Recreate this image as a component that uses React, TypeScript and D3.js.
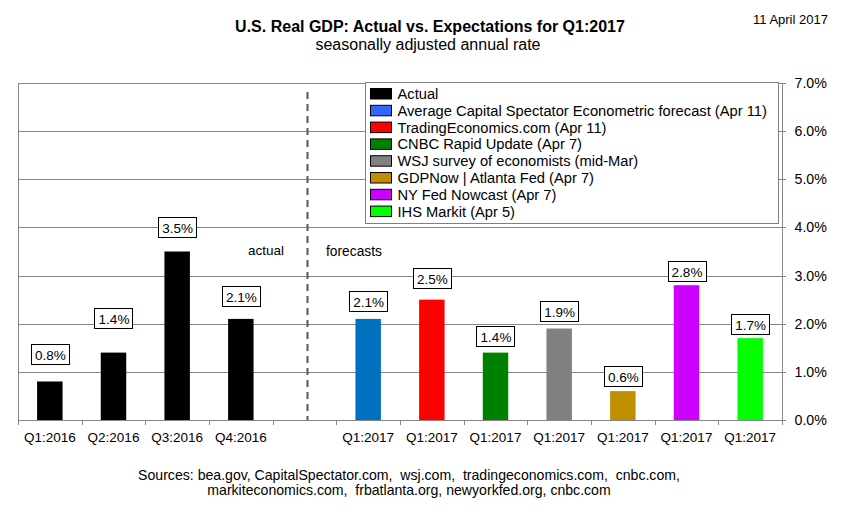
import React from "react";
import * as d3 from "d3";

// ---------- data ----------
const categories = ["Q1:2016", "Q2:2016", "Q3:2016", "Q4:2016", "", "Q1:2017", "Q1:2017", "Q1:2017", "Q1:2017", "Q1:2017", "Q1:2017", "Q1:2017"];
const values: (number | null)[] = [0.8, 1.4, 3.5, 2.1, null, 2.1, 2.5, 1.4, 1.9, 0.6, 2.8, 1.7];
const barColors = ["#000000", "#000000", "#000000", "#000000", "none", "#0070C0", "#FF0000", "#008000", "#808080", "#BF8F00", "#CC00FF", "#00FF00"];
const legendLabels = [
  "Actual",
  "Average Capital Spectator Econometric forecast (Apr 11)",
  "TradingEconomics.com (Apr 11)",
  "CNBC Rapid Update (Apr 7)",
  "WSJ survey of economists (mid-Mar)",
  "GDPNow | Atlanta Fed (Apr 7)",
  "NY Fed Nowcast (Apr 7)",
  "IHS Markit (Apr 5)",
];
const legendColors = ["#000000", "#3366FF", "#FF0000", "#008000", "#808080", "#BF8F00", "#CC00FF", "#00FF00"];
const yTicks = [0, 1, 2, 3, 4, 5, 6, 7];
const titleText = "U.S. Real GDP: Actual vs. Expectations for Q1:2017";
const subtitleText = "seasonally adjusted annual rate";
const dateText = "11 April 2017";
const sourceLines = [
  "Sources: bea.gov, CapitalSpectator.com,  wsj.com,  tradingeconomics.com,  cnbc.com,",
  "markiteconomics.com,  frbatlanta.org, newyorkfed.org, cnbc.com",
];

// ---------- layout (not data) ----------
const labelLift = [17, 25, 15, 13, 0, 8, 12, 7, 8, 5, 4, 4];
const FONT = "'Liberation Sans', Arial, sans-serif";
const W = 855;
const H = 512;
const left = 18;
const right = 782;
const top = 83;
const bottom = 420;
const grid = "#868686";

export default function App() {
  const x = d3.scaleBand<number>().domain(d3.range(categories.length)).range([left, right]).padding(0);
  const y = d3.scaleLinear().domain([0, 7]).range([bottom, top]);
  const bw = x.bandwidth() * 0.4;
  const fmt = d3.format(".1f");
  const dashX = (x(4)! + x.bandwidth() / 2) + 3;

  return (
    <svg width={W} height={H} style={{ position: "absolute", left: 0, top: 0, background: "#fff" }} fontFamily={FONT}>
      <rect x={0} y={0} width={W} height={H} fill="#fff" />
      {/* titles */}
      <text x={430} y={31.5} textAnchor="middle" fontSize={16} fontWeight="bold" fill="#000">{titleText}</text>
      <text x={428} y={50} textAnchor="middle" fontSize={16} fill="#000">{subtitleText}</text>
      <text x={753} y={24} fontSize={13} fill="#000">{dateText}</text>

      {/* gridlines */}
      {yTicks.map((t) => (
        <line key={"g" + t} x1={left} x2={right} y1={Math.round(y(t)) + 0.5} y2={Math.round(y(t)) + 0.5} stroke={grid} strokeWidth={1} />
      ))}
      {/* left border & right axis */}
      <line x1={left + 0.5} x2={left + 0.5} y1={top} y2={bottom + 5} stroke={grid} />
      <line x1={right + 0.5} x2={right + 0.5} y1={top} y2={bottom + 1} stroke={grid} />
      {yTicks.map((t) => (
        <g key={"yt" + t}>
          <line x1={right} x2={right + 4} y1={Math.round(y(t)) + 0.5} y2={Math.round(y(t)) + 0.5} stroke={grid} />
          <text x={794.5} y={y(t) + 5} fontSize={14.2} fill="#000">{fmt(t) + "%"}</text>
        </g>
      ))}
      {/* category ticks */}
      {d3.range(categories.length + 1).map((i) => {
        const xx = Math.round(i < categories.length ? x(i)! : right) + 0.5;
        return <line key={"ct" + i} x1={xx} x2={xx} y1={bottom} y2={bottom + 5} stroke={grid} />;
      })}
      {categories.map((c, i) => (
        <text key={"cl" + i} x={x(i)! + x.bandwidth() / 2} y={442} textAnchor="middle" fontSize={13.5} fill="#000">{c}</text>
      ))}

      {/* dashed separator */}
      <line x1={dashX} x2={dashX} y1={92} y2={bottom} stroke="#595959" strokeWidth={2} strokeDasharray="7,5" />
      <text x={248} y={255} fontSize={13.5} fill="#000">actual</text>
      <text x={326} y={256} fontSize={13.8} fill="#000">forecasts</text>

      {/* bars */}
      {values.map((v, i) =>
        v == null ? null : (
          <rect key={"b" + i} x={x(i)! + (x.bandwidth() - bw) / 2} y={y(v)} width={bw} height={y(0) - y(v)} fill={barColors[i]} />
        )
      )}
      {/* data labels */}
      {values.map((v, i) => {
        if (v == null) return null;
        const cx = x(i)! + x.bandwidth() / 2;
        const by = Math.round(y(v) - labelLift[i]);
        const w = 38;
        return (
          <g key={"l" + i}>
            <rect x={Math.round(cx - w / 2) + 0.5} y={by - 20 + 0.5} width={w} height={20} fill="#fff" stroke="#000" strokeWidth={1} />
            <text x={cx + 0.5} y={by - 4.5} textAnchor="middle" fontSize={13.5} fill="#000">{fmt(v) + "%"}</text>
          </g>
        );
      })}

      {/* legend */}
      <g>
        <rect x={365.5} y={82.5} width={413} height={141} fill="#fff" stroke="#808080" strokeWidth={1} />
        {legendLabels.map((l, i) => {
          const by = 99 + i * 16.8;
          return (
            <g key={"lg" + i}>
              <rect x={370.5} y={by - 10.5} width={21} height={10.5} fill={legendColors[i]} stroke="#000" strokeWidth={1} />
              <text x={397.5} y={by} fontSize={14.7} fill="#000">{l}</text>
            </g>
          );
        })}
      </g>

      {/* sources */}
      {sourceLines.map((s, i) => (
        <text key={"s" + i} x={409} y={480 + i * 14.5} textAnchor="middle" fontSize={14.1} fill="#000" style={{ whiteSpace: "pre" }}>{s}</text>
      ))}
    </svg>
  );
}
